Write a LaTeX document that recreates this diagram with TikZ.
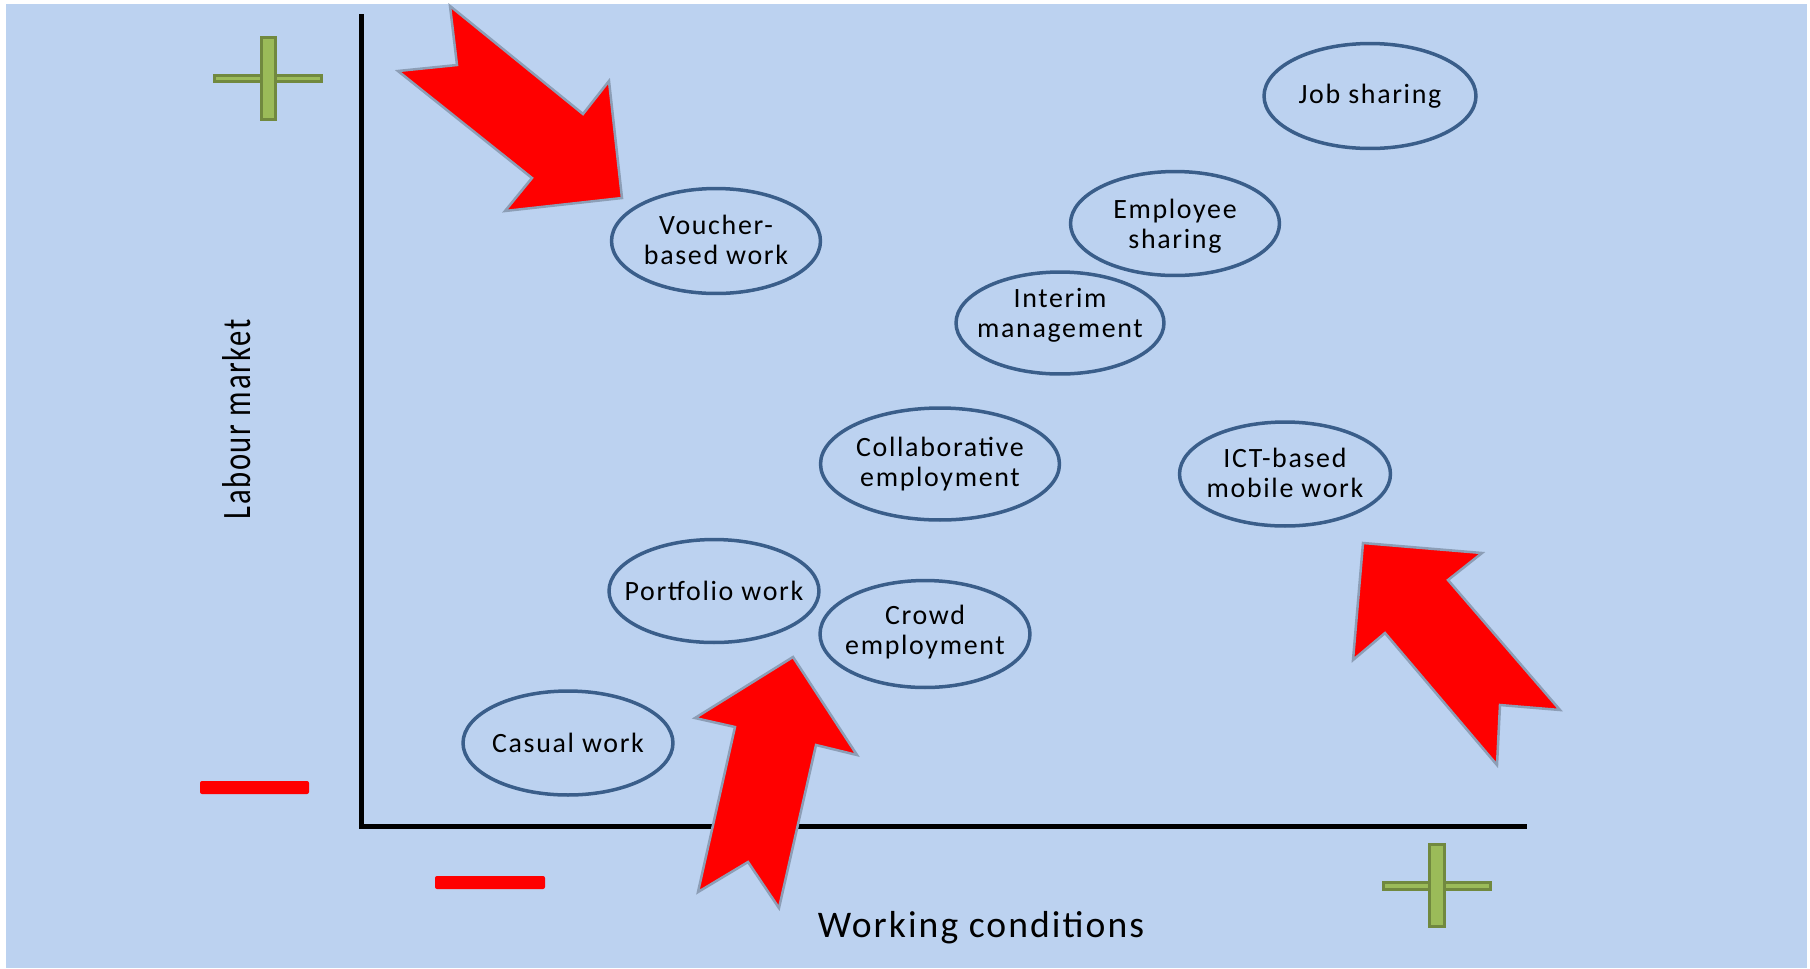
\documentclass[tikz,border=0pt]{standalone}
\usepackage{fontspec}
\setmainfont{Carlito}
\newfontfamily\lblfont[LetterSpace=6]{Carlito}
\newfontfamily\axfont[LetterSpace=5.5]{Carlito}
\usetikzlibrary{shapes.geometric}
\definecolor{bg}{RGB}{188,210,240}
\definecolor{ellc}{RGB}{58,94,138}
\definecolor{arrc}{RGB}{140,158,182}
\definecolor{pfill}{RGB}{155,187,89}
\definecolor{pdraw}{RGB}{113,137,63}
\begin{document}
\begin{tikzpicture}[x=0.02cm,y=-0.02cm,
  oval/.style={ellipse, draw=ellc, line width=0.07cm, inner sep=0pt},
  ovaltext/.style={align=center, inner sep=0pt, text=black,
    font=\lblfont\fontsize{15.9}{17.1}\selectfont},
  bigarrow/.style={fill=red, draw=arrc, line width=0.05cm, line join=miter},
  plusbar/.style={fill=pfill, draw=pdraw, line width=0.06cm},
  minusbar/.style={fill=red, rounded corners=0.04cm},
  axisline/.style={line width=0.1cm, black, line join=miter}
]
\useasboundingbox (0,0) rectangle (1810,968);
\fill[white] (0,0) rectangle (1810,968);
\fill[bg] (6,4) rectangle (1807,968);

% axes
\coordinate (ytop) at (361,14);
\coordinate (orig) at (361,826);
\coordinate (xend) at (1527,826);
\draw[axisline] (ytop) -- (orig) -- (xend);

% plus signs
\draw[plusbar] (214.5,75.5) rectangle (321.5,81.5);
\draw[plusbar] (261.5,37.5) rectangle (275.5,119.5);
\draw[plusbar] (1383.5,882.5) rectangle (1490.5,889.5);
\draw[plusbar] (1429.5,844.5) rectangle (1444.5,926.5);

% minus signs
\fill[minusbar] (200,781) rectangle (309,794);
\fill[minusbar] (435,876) rectangle (545,889);

% ellipses
\node[oval, minimum width=4.24cm, minimum height=2.10cm, label={[ovaltext]center:{Job sharing}}] (job) at (1370,96) {};
\node[oval, minimum width=4.18cm, minimum height=2.08cm, label={[ovaltext, yshift=-0.05cm]center:{Employee\\sharing}}] (empl) at (1175,223.5) {};
\node[oval, minimum width=4.16cm, minimum height=2.04cm, label={[ovaltext, yshift=0.16cm]center:{Interim\\management}}] (interim) at (1060,323) {};
\node[oval, minimum width=4.18cm, minimum height=2.10cm, label={[ovaltext, yshift=0.03cm]center:{Voucher-\\based work}}] (voucher) at (716,241) {};
\node[oval, minimum width=4.78cm, minimum height=2.24cm, label={[ovaltext]center:{Collaborative\\employment}}] (collab) at (940,464) {};
\node[oval, minimum width=4.22cm, minimum height=2.08cm, label={[ovaltext, yshift=0.03cm]center:{ICT-based\\mobile work}}] (ict) at (1285,474) {};
\node[oval, minimum width=4.20cm, minimum height=2.06cm, label={[ovaltext]center:{Portfolio work}}] (portfolio) at (714,591) {};
\node[oval, minimum width=4.20cm, minimum height=2.14cm, label={[ovaltext, yshift=0.03cm]center:{Crowd\\employment}}] (crowd) at (925,634) {};
\node[oval, minimum width=4.20cm, minimum height=2.08cm, label={[ovaltext]center:{Casual work}}] (casual) at (568,743) {};

% red arrows
\draw[bigarrow] (450,6) -- (583,114) -- (609,81) -- (622,198) -- (505,211) -- (532,178) -- (398,71) -- (457,65) -- cycle;
\draw[bigarrow] (793,657) -- (857,755) -- (816,745) -- (779,908) -- (748,862) -- (698,892) -- (735,727) -- (695,718) -- cycle;
\draw[bigarrow] (1363,543) -- (1482,553) -- (1448,580) -- (1560,710) -- (1500,705) -- (1497,765) -- (1385,633) -- (1353,660) -- cycle;

% axis labels
\node[anchor=base, inner sep=0pt, font=\axfont\fontsize{21.4}{24}\selectfont] (xlab) at (981,937) {Working conditions};
\node[anchor=base, rotate=90, inner sep=0pt] (ylab) at (250,419.5) {\resizebox{4.0cm}{0.56cm}{\axfont Labour market}};
\end{tikzpicture}
\end{document}
